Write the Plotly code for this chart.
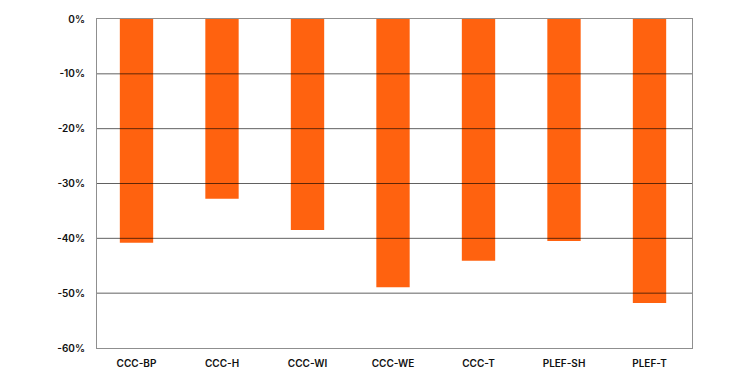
import plotly.graph_objects as go

categories = ["CCC-BP", "CCC-H", "CCC-WI", "CCC-WE", "CCC-T", "PLEF-SH", "PLEF-T"]
values = [-40.8, -32.8, -38.5, -48.9, -44.1, -40.5, -51.8]
tick_vals = [0, -10, -20, -30, -40, -50, -60]
tick_text = ["0%", "-10%", "-20%", "-30%", "-40%", "-50%", "-60%"]

fig = go.Figure()
fig.add_trace(go.Bar(
    x=list(range(len(categories))), y=values,
    marker=dict(color="#FF620F", line=dict(width=0)),
    width=0.39,
))

for v in tick_vals[1:-1]:
    fig.add_shape(type="line", xref="paper", yref="y", x0=0, x1=1, y0=v, y1=v,
                  line=dict(color="rgba(0,0,0,0.62)", width=1), layer="above")

fig.update_layout(
    width=746, height=369,
    margin=dict(l=89, r=62, t=11, b=29, autoexpand=False),
    plot_bgcolor="white", paper_bgcolor="white",
    showlegend=False,
    font=dict(family="Inter", size=10, color="#111111", weight=600),
    xaxis=dict(
        range=[-0.462, 6.497], automargin=False,
        tickvals=list(range(len(categories))), ticktext=categories,
        showgrid=False, zeroline=False,
        showline=True, linecolor="#8f8f8f", linewidth=1, mirror=True,
        ticks="", ticklabelstandoff=6,
    ),
    yaxis=dict(
        range=[-60, 0], automargin=False,
        tickvals=tick_vals, ticktext=tick_text,
        showgrid=False, zeroline=False,
        showline=True, linecolor="#8f8f8f", linewidth=1, mirror=True,
        ticks="", ticklabelstandoff=9,
    ),
)

fig.write_html("out.html")
